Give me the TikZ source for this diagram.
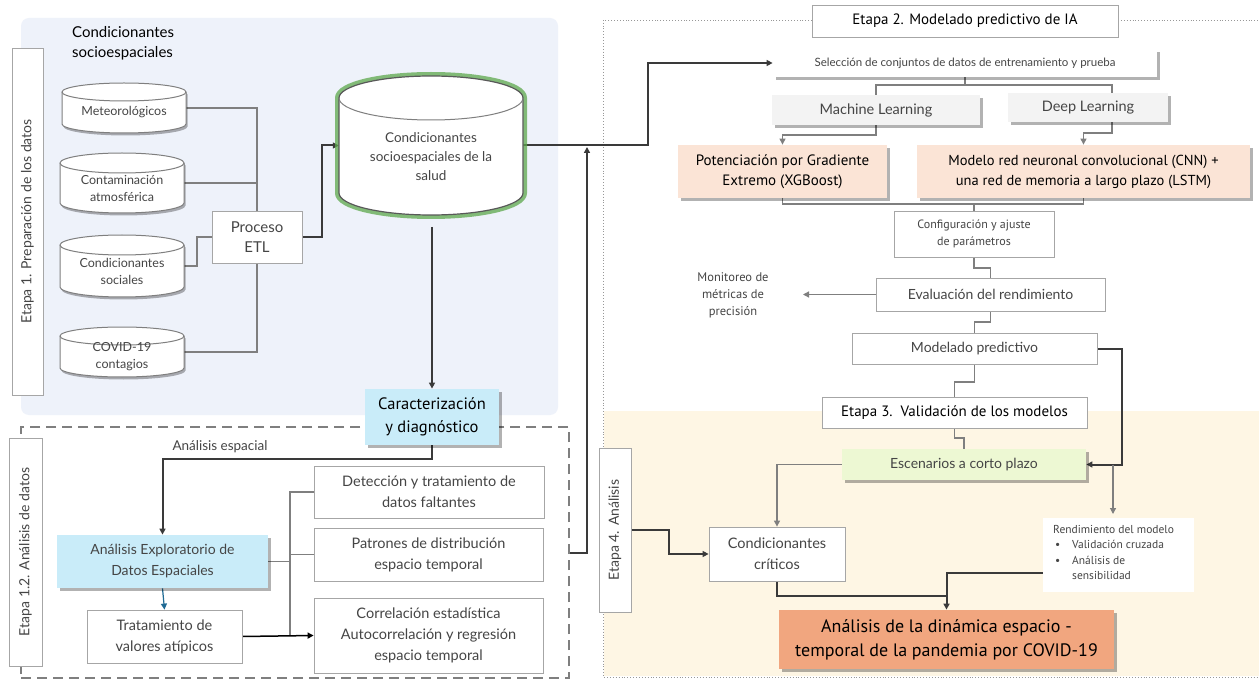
\documentclass[tikz,border=0pt]{standalone}
\usepackage{fontspec}
\setmainfont{Lato}
\newfontfamily\cond{PT Sans}
\usetikzlibrary{arrows.meta,calc}
\definecolor{bgblue}{HTML}{EEF2FA}
\definecolor{cream}{HTML}{FEF6E4}
\definecolor{cyanbox}{HTML}{C9ECF9}
\definecolor{peach}{HTML}{FBE4D6}
\definecolor{lgreen}{HTML}{EDF8D3}
\definecolor{salmon}{HTML}{F1A67F}
\definecolor{lgray}{HTML}{F3F3F3}
\definecolor{bord}{HTML}{A6A6A6}
\definecolor{txt}{HTML}{454545}
\definecolor{dline}{HTML}{3A3A3A}
\definecolor{gline}{HTML}{7F7F7F}
\definecolor{glow}{HTML}{5DA84C}
\definecolor{blueline}{HTML}{1F6A94}
\newcommand\fsz[2]{\fontsize{#1}{#2}\selectfont}
\pgfdeclarelayer{back}
\pgfdeclarelayer{mid}
\pgfsetlayers{back,mid,main}
\newcommand\drawcyl[9]{%
 \pgfmathsetmacro\cxA{(#2+#3)/2}%
 \pgfmathsetmacro\rxA{(#3-#2)/2}%
 \pgfmathsetmacro\kxA{0.5523*\rxA}%
 \pgfmathsetmacro\kyA{0.5523*#6}%
 \pgfmathsetmacro\ytcA{#4+#6}%
 \pgfmathsetmacro\ybcA{#5-#6}%
 \pgfmathsetmacro\cyA{(#4+#5)/2}%
 \pgfmathsetmacro\tyA{(\ytcA+#5)/2}%
 \pgfmathsetmacro\wA{#3-#2}%
 \pgfmathsetmacro\hA{#5-#4}%
 \path[#7] (#2,\ytcA) -- (#2,\ybcA) .. controls (#2,\ybcA+\kyA) and (\cxA-\kxA,#5) .. (\cxA,#5) .. controls (\cxA+\kxA,#5) and (#3,\ybcA+\kyA) .. (#3,\ybcA) -- (#3,\ytcA) .. controls (#3,\ytcA-\kyA) and (\cxA+\kxA,#4) .. (\cxA,#4) .. controls (\cxA-\kxA,#4) and (#2,\ytcA-\kyA) .. (#2,\ytcA) -- cycle;
 \draw[cylline] (#2,\ytcA) .. controls (#2,\ytcA+\kyA) and (\cxA-\kxA,\ytcA+#6) .. (\cxA,\ytcA+#6) .. controls (\cxA+\kxA,\ytcA+#6) and (#3,\ytcA+\kyA) .. (#3,\ytcA);
 \node[inner sep=0,minimum width=\wA pt,minimum height=\hA pt] (#1) at (\cxA,\cyA) {};
 \node[align=center,text=txt,inner sep=0,font=#9] at (\cxA,\tyA) {#8};
}
\begin{document}
\begin{tikzpicture}[x=1pt,y=-1pt,
  box/.style={draw=bord, line width=0.8pt, fill=white, inner sep=0, align=center, text=txt},
  plain/.style={inner sep=0, align=center, text=txt},
  shad/.style={preaction={fill=black, opacity=.3, transform canvas={xshift=2.5pt, yshift=-3pt}}},
  gl/.style={draw=gline, line width=1.2pt},
  dl/.style={draw=dline, line width=2pt},
  tip/.style={-{Triangle[length=6pt,width=6pt]}},
  cylline/.style={draw=gline, line width=1pt},
  cylfill/.style={fill=white, draw=gline, line width=1pt, preaction={fill=black, opacity=.3, transform canvas={xshift=1.5pt, yshift=-2.5pt}}},
  bigfill/.style={fill=white, draw=gline!70!black, line width=1.2pt, preaction={draw=glow, line width=8pt, opacity=.75}},
  vlab/.style={box, rotate=90, font=\fsz{14}{17}}
]
\useasboundingbox (0,0) rectangle (1259,679);
\begin{pgfonlayer}{back}
\fill[white] (0,0) rectangle (1259,679);
\fill[bgblue, rounded corners=8pt] (21,18) rectangle (558,415);
\fill[cream] (604,411) rectangle (1259,676);
\draw[gline!80, dotted, line width=0.9pt] (812,20) -- (603,20) -- (603,677) -- (1259,677);
\draw[gline!80, dotted, line width=0.9pt] (1118,20) -- (1259,20);
\end{pgfonlayer}

% ---------- Etapa 1
\node[vlab, minimum width=347pt, minimum height=31pt] (e1) at (27.5,221.5) {Etapa 1. Preparación de los datos};
\node[anchor=north west, align=left, inner sep=0, text=black, font=\fsz{15}{20}] (hd) at (72,26) {Condicionantes\\socioespaciales};

\drawcyl{c1}{62}{186}{83}{133}{9}{cylfill}{Meteorológicos}{\fsz{12.5}{17}}
\drawcyl{c2}{60}{184}{153}{213}{10}{cylfill}{Contaminación\\atmosférica}{\fsz{12.5}{17}}
\drawcyl{c3}{60}{184}{235}{297}{10}{cylfill}{Condicionantes\\sociales}{\fsz{12.5}{17}}
\drawcyl{c4}{60}{184}{327}{377}{9}{cylfill}{COVID-19\\contagios}{\fsz{12.5}{17}}
\drawcyl{big}{339}{523}{76}{215}{22}{bigfill}{Condicionantes\\socioespaciales de la\\salud}{\fsz{13.5}{19}}

\node[box, minimum width=90pt, minimum height=52pt, font=\fsz{15}{20}] (etl) at (257,237) {Proceso\\ETL};

% ---------- Etapa 1.2
\node[draw=gline, dash pattern=on 10pt off 6pt, line width=1.3pt, minimum width=548pt, minimum height=251pt, inner sep=0] (e12) at (295,552.5) {};
\node[vlab, minimum width=228pt, minimum height=33pt] (e12l) at (25.5,552) {Etapa 1.2. Análisis de datos};
\node[box, draw=none, fill=cyanbox, shad, text=black, minimum width=134pt, minimum height=56pt, font=\cond\fsz{16.5}{23}] (car) at (432,417) {Caracterización\\y diagnóstico};
\node[plain, font=\fsz{13.5}{16}] (lae) at (220,447) {Análisis espacial};
\node[box, draw=none, fill=cyanbox, shad, minimum width=211pt, minimum height=53pt, font=\fsz{14}{21}] (aede) at (162.5,561.5) {Análisis Exploratorio de\\Datos Espaciales};
\node[box, minimum width=155pt, minimum height=53pt, font=\fsz{14.5}{21}] (trat) at (164.5,636.5) {Tratamiento de\\valores atípicos};
\node[box, minimum width=230pt, minimum height=52pt, font=\fsz{14.5}{21}] (det) at (429,492) {Detección y tratamiento de\\datos faltantes};
\node[box, minimum width=229pt, minimum height=53pt, font=\fsz{14.5}{21}] (pat) at (428.5,554.5) {Patrones de distribución\\espacio temporal};
\node[box, minimum width=229pt, minimum height=75pt, font=\fsz{14.5}{21}] (cor) at (428.5,635.5) {Correlación estadística\\Autocorrelación y regresión\\espacio temporal};

% ---------- Etapa 2
\node[box, text=black, minimum width=306pt, minimum height=32pt, font=\cond\fsz{15}{18}] (e2) at (965,21) {Etapa 2. Modelado predictivo de IA};
\node[box, draw=none, shad, minimum width=384pt, minimum height=28pt, font=\fsz{11.5}{14}] (sel) at (965,63) {Selección de conjuntos de datos de entrenamiento y prueba};
\node[box, draw=none, fill=lgray, shad, minimum width=208pt, minimum height=30pt, font=\fsz{14.5}{17}] (mach) at (876,110) {Machine Learning};
\node[box, draw=none, fill=lgray, shad, minimum width=160pt, minimum height=29pt, font=\fsz{14.5}{17}] (deep) at (1088,107.5) {Deep Learning};
\node[box, draw=none, fill=peach, shad, text=black, minimum width=209pt, minimum height=53pt, font=\cond\fsz{15}{20}] (xgb) at (782.5,171.5) {Potenciación por Gradiente\\Extremo (XGBoost)};
\node[box, draw=none, fill=peach, shad, text=black, minimum width=333pt, minimum height=53pt, font=\cond\fsz{14.5}{20}] (cnn) at (1083.5,171.5) {Modelo red neuronal convolucional (CNN) +\\una red de memoria a largo plazo (LSTM)};
\node[box, minimum width=160pt, minimum height=46pt, font=\cond\fsz{12}{17}] (cfg) at (974,234) {Configuración y ajuste\\de parámetros};
\node[box, minimum width=229pt, minimum height=33pt, font=\fsz{14}{17}] (ev) at (990.5,294.5) {Evaluación del rendimiento};
\node[plain, font=\cond\fsz{12.5}{17}] (mon) at (733,295) {Monitoreo de\\métricas de\\precisión};
\node[box, minimum width=245pt, minimum height=31pt, font=\fsz{14}{17}] (mod) at (974.5,348.5) {Modelado predictivo};
\node[box, text=black, minimum width=265pt, minimum height=31pt, font=\cond\fsz{15}{18}] (e3) at (954.5,412.5) {Etapa 3.~~Validación de los modelos};

% ---------- Etapa 4
\node[vlab, minimum width=164pt, minimum height=32pt] (e4) at (615,530) {Etapa 4. Análisis};
\node[box, draw=none, fill=lgreen, shad, minimum width=244pt, minimum height=31pt, font=\fsz{14}{17}] (esc) at (964,464.5) {Escenarios a corto plazo};
\node[box, minimum width=136pt, minimum height=54pt, font=\fsz{14.5}{21}] (crit) at (777,554) {Condicionantes\\críticos};
\node[fill=white, inner sep=0, minimum width=151pt, minimum height=74pt] (rend) at (1118.5,555) {};
\node[anchor=north west, align=left, inner sep=0, text=txt, font=\cond\fsz{11.5}{15.5}] (rendt) at (1053,525) {Rendimiento del modelo\\
\makebox[19pt][l]{\hspace{2pt}\textbullet}Validación cruzada\\
\makebox[19pt][l]{\hspace{2pt}\textbullet}Análisis de\\
\hspace*{19pt}sensibilidad};
\node[box, draw=none, fill=salmon, shad, text=black, minimum width=335pt, minimum height=59pt, font=\cond\fsz{18}{24}] (fin) at (946.5,639.5) {Análisis de la dinámica espacio -\\temporal de la pandemia por COVID-19};

% ---------- connectors
\begin{pgfonlayer}{mid}
\draw[gl] (c1.east) -| (etl.north);
\draw[gl] (c4.east) -| (etl.south);
\draw[gl] (c2.east) -- (c2.east -| etl.north);
\draw[gl] (c3.east) -- (197,266) -- (197,237) -- (etl.west);
\draw[dl,tip] (etl.east) -- (322,237) |- (big.west);
\draw[dl,tip] (big.east) -- (648,145.5) |- (sel.west);
\draw[dl,tip] (e12.east) -| (587,147);
\draw[dl,tip] (432,227) -- (car.north);
\draw[dl,tip] (car.south) -- (432,459) -| (aede.north);
\draw[blueline, line width=1.2pt, tip] (aede.south) -- (trat.north);
\draw[gl] (aede.east) -- (290,561.5);
\draw[gl] (det.west) -- (290,492) -- (290,636);
\draw[gl] (pat.west) -- (290,554.5);
\draw[black, line width=1.5pt, tip] (trat.east) -- (cor.west);

\draw[gl] (sel.south) -- (965,85);
\draw[gl] (mach.north) |- (1112,85) -- (1112,93);
\draw[gl,tip] (mach.south) -- (876,135) -| (xgb.north);
\draw[gl,tip] (1112,122) -- (1112,133) -| (cnn.north);
\draw[gl] (xgb.south) -- (782.5,204) -| (cnn.south);
\draw[gl] (974,204) -- (cfg.north);
\draw[gl] (cfg.south) -- (974,268) -| (ev.north);
\draw[gl,tip] (ev.west) -- (803,294.5);
\draw[gl] (ev.south) -- (990.5,322) -| (mod.north);
\draw[gl] (mod.south) -- (974.5,382) -| (e3.north);
\draw[gl] (e3.south) -- (954.5,438) -| (esc.north);
\draw[dl,tip] (mod.east) -- (1122,348.5) |- (esc.east);
\draw[gl,tip] (1113,464.5) -- (1113,514);
\draw[gl,tip] (esc.west) -| (crit.north);
\draw[dl] (crit.south) |- (946.5,596);
\draw[dl,tip] (rend.west |- 0,573) -| (fin.north);
\draw[dl,tip] (e4.south) -- (669,530) |- (crit.west);
\end{pgfonlayer}
\end{tikzpicture}
\end{document}
